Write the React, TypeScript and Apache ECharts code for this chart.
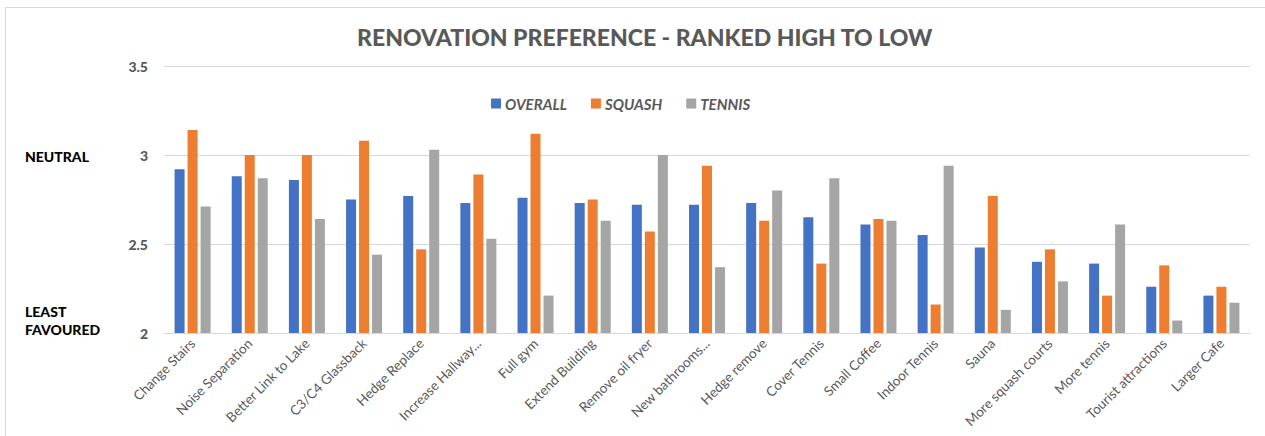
import React, { useEffect, useRef } from "react";
import * as echarts from "echarts";

const categories = [
  "Change Stairs",
  "Noise Separation",
  "Better Link to Lake",
  "C3/C4 Glassback",
  "Hedge Replace",
  "Increase Hallway...",
  "Full gym",
  "Extend Building",
  "Remove oil fryer",
  "New bathrooms...",
  "Hedge remove",
  "Cover Tennis",
  "Small Coffee",
  "Indoor Tennis",
  "Sauna",
  "More squash courts",
  "More tennis",
  "Tourist attractions",
  "Larger Cafe",
];

const overall = [2.92, 2.88, 2.86, 2.75, 2.77, 2.73, 2.76, 2.73, 2.72, 2.72, 2.73, 2.65, 2.61, 2.55, 2.48, 2.4, 2.39, 2.26, 2.21];
const squash = [3.14, 3.0, 3.0, 3.08, 2.47, 2.89, 3.12, 2.75, 2.57, 2.94, 2.63, 2.39, 2.64, 2.16, 2.77, 2.47, 2.21, 2.38, 2.26];
const tennis = [2.71, 2.87, 2.64, 2.44, 3.03, 2.53, 2.21, 2.63, 3.0, 2.37, 2.8, 2.87, 2.63, 2.94, 2.13, 2.29, 2.61, 2.07, 2.17];

const seriesNames = ["OVERALL", "SQUASH", "TENNIS"];
const seriesColors = ["#4472C4", "#ED7D31", "#A5A5A5"];

const yMin = 2;
const yMax = 3.5;
const yInterval = 0.5;

const titleText = "RENOVATION PREFERENCE - RANKED HIGH TO LOW";
const FONT = "Lato, 'Open Sans', sans-serif";

export default function App() {
  const ref = useRef<HTMLDivElement>(null);

  useEffect(() => {
    if (!ref.current) return;
    const chart = echarts.init(ref.current, null, { renderer: "svg" });
    const data = [overall, squash, tennis];
    chart.setOption({
      animation: false,
      backgroundColor: "#ffffff",
      textStyle: { fontFamily: FONT },
      title: {
        text: titleText,
        left: 352,
        top: 20,
        textStyle: {
          fontFamily: FONT,
          fontSize: 23,
          fontWeight: 900,
          color: "#595959",
        },
      },
      legend: {
        data: seriesNames,
        left: 486,
        top: 91,
        itemWidth: 10,
        itemHeight: 10,
        itemGap: 24,
        icon: "rect",
        textStyle: {
          fontFamily: FONT,
          fontSize: 15,
          fontWeight: "bold",
          fontStyle: "italic",
          color: "#595959",
          padding: [0, 0, 0, -1],
        },
      },
      grid: { left: 164, right: 15, top: 66, bottom: 103 },
      xAxis: {
        type: "category",
        data: categories,
        axisLine: { show: true, lineStyle: { color: "#d9d9d9", width: 1 } },
        axisTick: { show: false },
        axisLabel: {
          interval: 0,
          rotate: 45,
          margin: 8,
          fontFamily: FONT,
          fontSize: 13.5,
          color: "#595959",
        },
      },
      yAxis: {
        type: "value",
        min: yMin,
        max: yMax,
        interval: yInterval,
        axisLine: { show: false },
        axisTick: { show: false },
        splitLine: { lineStyle: { color: "#d9d9d9", width: 1 } },
        axisLabel: {
          margin: 16,
          fontFamily: FONT,
          fontSize: 14,
          fontWeight: 900,
          color: "#595959",
        },
      },
      series: seriesNames.map((name, i) => ({
        name,
        type: "bar",
        data: data[i],
        barWidth: 10,
        barGap: "30%",
        itemStyle: { color: seriesColors[i] },
      })),
      graphic: [
        {
          type: "line",
          shape: { x1: 5.5, y1: 7.5, x2: 1265, y2: 7.5 },
          style: { stroke: "#d9d9d9", lineWidth: 1 },
        },
        {
          type: "line",
          shape: { x1: 5.5, y1: 7.5, x2: 5.5, y2: 436 },
          style: { stroke: "#d9d9d9", lineWidth: 1 },
        },
        {
          type: "text",
          left: 25,
          top: 149,
          style: {
            text: "NEUTRAL",
            fontFamily: FONT,
            fontSize: 14,
            fontWeight: 900,
            fill: "#000000",
          },
        },
        {
          type: "text",
          left: 25,
          top: 302,
          style: {
            text: "LEAST\nFAVOURED",
            fontFamily: FONT,
            fontSize: 14,
            fontWeight: 900,
            lineHeight: 18,
            fill: "#000000",
          },
        },
      ],
    });
    return () => chart.dispose();
  }, []);

  return (
    <div
      ref={ref}
      style={{ position: "absolute", left: 0, top: 0, width: 1265, height: 436 }}
    />
  );
}
